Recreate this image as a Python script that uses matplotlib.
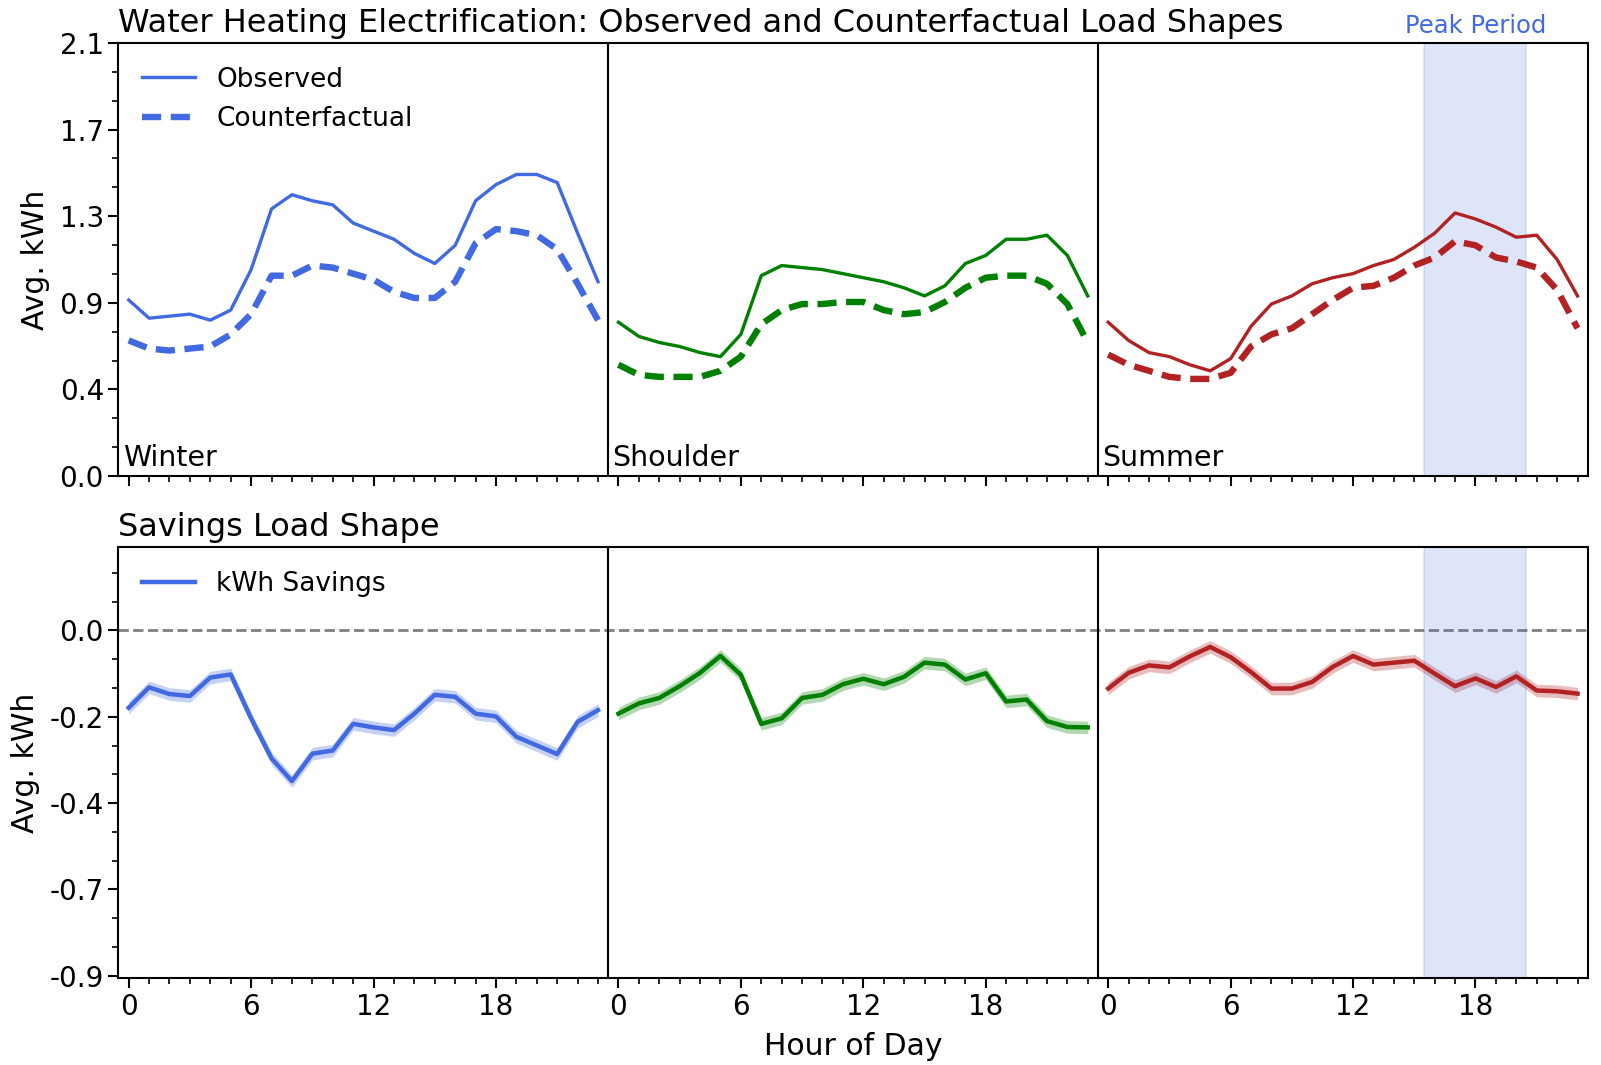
import numpy as np
import matplotlib
matplotlib.use("Agg")
import matplotlib.pyplot as plt
from matplotlib.ticker import MultipleLocator, FixedLocator

# hourly average load (kWh) per season
hours = np.arange(24)
seasons = ["Winter", "Shoulder", "Summer"]
colors = ["royalblue", "green", "firebrick"]

winter_obs = [0.87, 0.78, 0.79, 0.80, 0.77, 0.82, 1.02, 1.32, 1.39, 1.36, 1.34, 1.25,
              1.21, 1.17, 1.10, 1.05, 1.14, 1.36, 1.44, 1.49, 1.49, 1.45, 1.20, 0.96]
winter_cf = [0.67, 0.63, 0.62, 0.63, 0.64, 0.70, 0.80, 0.99, 0.99, 1.04, 1.03, 1.00,
             0.97, 0.91, 0.88, 0.88, 0.96, 1.15, 1.22, 1.21, 1.19, 1.12, 0.95, 0.77]
shoulder_obs = [0.76, 0.69, 0.66, 0.64, 0.61, 0.59, 0.70, 0.99, 1.04, 1.03, 1.02, 1.00,
                0.98, 0.96, 0.93, 0.89, 0.94, 1.05, 1.09, 1.17, 1.17, 1.19, 1.09, 0.89]
shoulder_cf = [0.55, 0.50, 0.49, 0.49, 0.49, 0.52, 0.59, 0.75, 0.82, 0.85, 0.85, 0.86,
               0.86, 0.82, 0.80, 0.81, 0.86, 0.93, 0.98, 0.99, 0.99, 0.95, 0.85, 0.66]
summer_obs = [0.76, 0.67, 0.61, 0.59, 0.55, 0.52, 0.58, 0.74, 0.85, 0.89, 0.95, 0.98,
              1.00, 1.04, 1.07, 1.13, 1.20, 1.30, 1.27, 1.23, 1.18, 1.19, 1.07, 0.89]
summer_cf = [0.60, 0.55, 0.52, 0.49, 0.48, 0.48, 0.51, 0.64, 0.70, 0.73, 0.80, 0.87,
             0.93, 0.94, 0.98, 1.04, 1.08, 1.16, 1.14, 1.08, 1.06, 1.03, 0.92, 0.73]

# savings = counterfactual - observed, with confidence band half-width
winter_sav = [-0.197, -0.145, -0.162, -0.167, -0.120, -0.112, -0.224, -0.326, -0.384, -0.314,
              -0.306, -0.238, -0.247, -0.254, -0.212, -0.164, -0.169, -0.212, -0.219, -0.271,
              -0.293, -0.315, -0.233, -0.203]
shoulder_sav = [-0.212, -0.186, -0.172, -0.142, -0.108, -0.065, -0.113, -0.238, -0.224, -0.172,
                -0.164, -0.137, -0.123, -0.137, -0.118, -0.082, -0.087, -0.125, -0.109, -0.181,
                -0.176, -0.231, -0.246, -0.247]
summer_sav = [-0.148, -0.108, -0.089, -0.094, -0.066, -0.042, -0.068, -0.106, -0.148, -0.148,
              -0.131, -0.093, -0.065, -0.087, -0.082, -0.077, -0.110, -0.142, -0.122, -0.144,
              -0.117, -0.153, -0.155, -0.161]
sav_err = 0.016

obs = [winter_obs, shoulder_obs, summer_obs]
cf = [winter_cf, shoulder_cf, summer_cf]
sav = [winter_sav, shoulder_sav, summer_sav]

peak_start, peak_end = 15.5, 20.5  # summer peak hours
top_max = 2.14
bot_min = -0.88

fig = plt.figure(figsize=(16.01, 10.65), dpi=100)
ax1 = fig.add_axes([0.074, 0.553, 0.9177, 0.4067])
ax2 = fig.add_axes([0.074, 0.0816, 0.9177, 0.4045])

for i in range(3):
    x = hours + 24 * i
    ax1.plot(x, obs[i], color=colors[i], lw=2.4, label="Observed" if i == 0 else None)
    ax1.plot(x, cf[i], color=colors[i], lw=4.6, ls=(0, (3, 1.5)),
             label="Counterfactual" if i == 0 else None)
    s = np.array(sav[i])
    ax2.fill_between(x, s - sav_err, s + sav_err, color=colors[i], alpha=0.3, lw=0)
    ax2.plot(x, s, color=colors[i], lw=3.2, label="kWh Savings" if i == 0 else None)

for ax in (ax1, ax2):
    ax.axhline(0, color="gray", ls="--", lw=2, zorder=1)
    for b in (23.5, 47.5):
        ax.axvline(b, color="black", lw=1.5)
    ax.axvspan(48 + peak_start, 48 + peak_end, color="royalblue", alpha=0.17, lw=1.2)
    ax.set_xlim(-0.5, 71.5)
    ax.xaxis.set_major_locator(FixedLocator(np.arange(0, 72, 6)))
    ax.xaxis.set_minor_locator(MultipleLocator(1))
    ax.tick_params(axis="both", which="major", labelsize=20, length=7, width=1.5)
    ax.tick_params(axis="both", which="minor", length=4, width=1.2)
    ax.set_ylabel("Avg. kWh", fontsize=21.5, labelpad=7)
    for sp in ax.spines.values():
        sp.set_linewidth(1.5)

ax1.set_ylim(0, top_max)
yt = np.linspace(0, top_max, 6)
ax1.set_yticks(yt)
ax1.set_yticklabels(["%.1f" % v for v in yt])
ax1.yaxis.set_minor_locator(FixedLocator(np.arange(0, top_max + 1e-6, top_max / 15)))
ax1.set_xticklabels([])
ax1.set_title("Water Heating Electrification: Observed and Counterfactual Load Shapes",
              fontsize=23, loc="left", pad=8)
ax1.legend(loc="upper left", frameon=False, fontsize=19, borderaxespad=0.5)
for i, name in enumerate(seasons):
    ax1.text(24 * i - 0.3, 0.02, name, fontsize=20.5, ha="left", va="bottom")
ax1.text(48 + (peak_start + peak_end) / 2, top_max * 1.012, "Peak Period",
         color="royalblue", fontsize=17.5, ha="center", va="bottom")

ax2.set_ylim(bot_min - 0.006, 0.212)
yb = np.linspace(0, bot_min, 5)
ax2.set_yticks(yb)
ax2.set_yticklabels(["%.1f" % v for v in yb])
ax2.yaxis.set_minor_locator(FixedLocator(np.arange(bot_min, 0.22, -bot_min / 12)))
ax2.set_xticklabels([str(h % 24) for h in np.arange(0, 72, 6)])
ax2.set_xlabel("Hour of Day", fontsize=21.5, labelpad=8)
ax2.set_title("Savings Load Shape", fontsize=23, loc="left", pad=8)
ax2.legend(loc="upper left", frameon=False, fontsize=19, borderaxespad=0.5)

fig.savefig("out.png", dpi=100)
